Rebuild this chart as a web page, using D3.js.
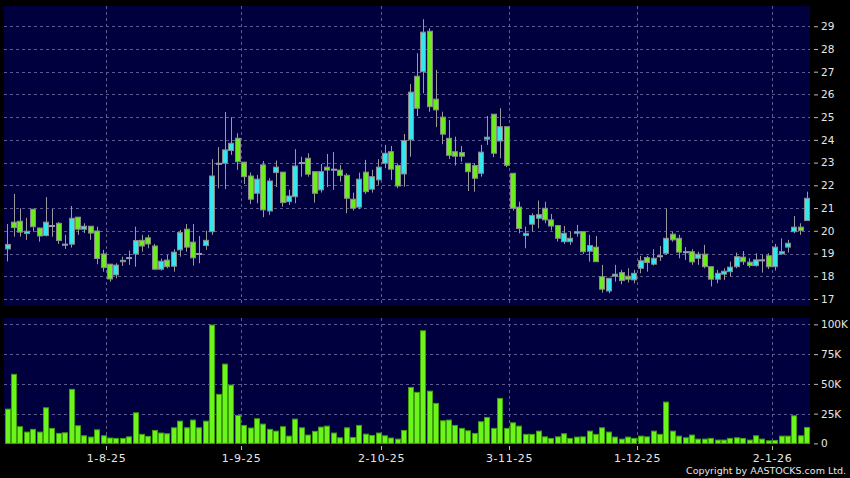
<!DOCTYPE html>
<html>
<head>
<meta charset="utf-8">
<script src="https://cdn.jsdelivr.net/npm/d3@7/dist/d3.min.js"></script>
<style>
  body { margin: 0; background: #000; }
  svg { display: block; }
  .axis text { fill: #e6e6e6; font-family: "DejaVu Sans", sans-serif; font-size: 10.5px; }
  .axis .domain { display: none; }
  .axis line { stroke: #bbbbbb; }
</style>
</head>
<body>
<div id="chart"></div>
<script>
// daily candles, oldest first (one per trading day)
var openPrices = [19.2, 20.38, 20.42, 19.88, 20.95, 20.12, 19.79, 20.23, 20.33, 19.41, 19.41, 20.6, 20.07, 20.2, 19.99, 18.98, 18.53, 18.06, 18.64, 18.82,
    18.98, 19.58, 19.69, 19.33, 18.31, 18.71, 18.44, 19.16, 20.07, 19.5, 19.0, 19.35, 19.96, 22.97, 22.97, 23.53, 24.07, 23.02, 22.41, 21.65,
    22.9, 20.87, 22.56, 22.58, 21.28, 21.5, 23.0, 23.19, 22.6, 21.8, 22.8, 22.71, 22.67, 22.44, 21.39, 21.04, 22.58, 21.83, 22.24, 22.97,
    23.48, 22.87, 22.5, 24.0, 26.8, 27.0, 28.78, 25.79, 25.0, 24.07, 23.48, 23.44, 22.97, 22.87, 22.53, 24.03, 25.13, 23.95, 24.58, 22.53,
    21.04, 19.79, 20.29, 20.55, 20.99, 20.48, 20.23, 19.52, 19.52, 19.89, 19.96, 19.1, 19.28, 17.98, 17.35, 18.0, 18.16, 18.0, 17.84, 18.35,
    18.82, 18.53, 18.9, 19.01, 19.85, 19.67, 19.08, 19.08, 18.79, 18.97, 18.42, 17.87, 18.09, 18.2, 18.42, 18.84, 18.62, 18.47, 18.72, 18.9,
    18.42, 18.98, 19.28, 19.96, 20.16, 20.45];
var highPrices = [20.3, 21.62, 20.99, 20.57, 20.95, 20.14, 21.48, 20.96, 20.38, 19.82, 21.09, 20.6, 20.33, 20.2, 20.18, 19.16, 18.53, 18.57, 18.86, 19.13,
    20.18, 19.82, 19.82, 19.42, 18.78, 18.94, 19.19, 20.04, 20.3, 20.3, 19.77, 20.0, 23.15, 23.68, 25.23, 25.0, 24.29, 23.02, 22.56, 22.46,
    23.07, 22.31, 23.09, 22.58, 21.8, 23.59, 23.26, 23.41, 22.6, 22.94, 23.38, 23.47, 22.9, 22.53, 21.68, 22.56, 23.12, 22.68, 23.15, 23.78,
    23.73, 22.97, 24.26, 26.46, 27.81, 29.31, 28.91, 27.08, 25.24, 24.88, 24.14, 23.73, 22.97, 22.97, 23.78, 25.05, 25.13, 25.39, 24.58, 22.53,
    21.28, 20.18, 20.77, 21.33, 21.28, 20.74, 20.23, 20.21, 19.96, 20.26, 19.96, 19.82, 19.77, 18.5, 17.91, 18.5, 18.28, 18.35, 18.28, 18.89,
    18.89, 19.19, 19.33, 20.96, 19.96, 19.82, 19.28, 19.19, 19.08, 19.38, 18.42, 18.28, 18.35, 18.64, 19.04, 19.11, 18.79, 19.01, 18.94, 19.01,
    19.42, 19.67, 19.6, 20.65, 20.33, 21.72];
var lowPrices = [18.65, 19.74, 19.74, 19.6, 19.96, 19.52, 19.75, 19.74, 19.42, 19.2, 19.26, 19.82, 19.9, 19.6, 18.53, 18.2, 17.76, 17.91, 18.45, 18.5,
    18.42, 19.08, 19.23, 18.28, 18.25, 18.35, 18.2, 18.86, 19.08, 18.47, 18.57, 19.16, 19.82, 21.87, 21.83, 23.34, 22.68, 22.06, 21.18, 21.21,
    20.6, 20.7, 21.92, 21.06, 21.14, 21.21, 22.38, 22.38, 21.24, 21.68, 21.92, 21.8, 22.16, 20.77, 20.89, 20.95, 21.62, 21.68, 22.02, 22.75,
    22.24, 21.87, 21.94, 23.26, 25.05, 26.05, 25.24, 24.56, 23.81, 23.16, 22.87, 23.04, 21.75, 21.72, 22.38, 23.78, 23.24, 23.19, 22.8, 20.89,
    19.89, 19.23, 19.96, 20.11, 20.33, 20.01, 19.53, 19.42, 19.38, 19.74, 18.98, 18.64, 18.64, 17.28, 17.25, 17.76, 17.65, 17.72, 17.69, 18.13,
    18.2, 18.47, 18.67, 18.94, 19.52, 18.79, 18.72, 18.5, 18.5, 18.35, 17.55, 17.69, 17.84, 17.98, 18.35, 18.5, 18.38, 18.42, 18.16, 18.32,
    18.25, 18.94, 19.04, 19.89, 19.82, 20.45];
var closePrices = [19.4, 20.14, 19.94, 19.98, 20.18, 19.77, 20.38, 20.23, 19.57, 19.41, 20.55, 20.07, 20.2, 19.9, 18.78, 18.38, 17.88, 18.49, 18.7, 18.82,
    19.57, 19.33, 19.42, 18.31, 18.66, 18.42, 19.06, 19.92, 19.28, 18.81, 19.0, 19.58, 22.41, 22.97, 23.56, 23.85, 23.04, 22.38, 21.39, 22.27,
    20.92, 22.19, 22.8, 21.24, 21.53, 22.85, 23.0, 22.49, 21.65, 22.6, 22.67, 22.71, 22.43, 21.43, 20.99, 22.27, 21.72, 22.38, 22.8, 23.41,
    22.71, 21.97, 23.97, 26.1, 25.39, 28.74, 25.46, 25.32, 24.25, 23.32, 23.28, 23.28, 22.6, 22.31, 23.46, 24.12, 23.41, 24.58, 22.88, 20.99,
    20.1, 19.89, 20.67, 20.71, 20.48, 20.21, 19.67, 19.89, 19.67, 19.96, 19.08, 19.35, 18.64, 17.43, 17.91, 18.09, 17.81, 17.87, 18.13, 18.68,
    18.6, 18.79, 18.9, 19.67, 19.6, 19.06, 19.08, 18.63, 18.97, 18.42, 17.87, 18.13, 18.22, 18.4, 18.86, 18.64, 18.47, 18.72, 18.72, 18.42,
    19.28, 19.08, 19.45, 20.16, 20.01, 21.43];
var volumes = [28800, 58000, 14000, 9500, 11800, 9500, 29900, 12600, 8400, 8900, 45400, 14800, 6400, 5300, 11400, 6400, 4500, 4200, 4200, 5500,
    25700, 7600, 5900, 10900, 8700, 8100, 13100, 18700, 13100, 19600, 13100, 18700, 99400, 41200, 66600, 49000, 23500, 15100, 12900, 20700,
    16200, 11800, 10300, 14000, 6100, 20400, 13100, 7000, 10100, 13700, 14500, 8700, 4700, 13100, 5000, 15100, 7800, 6700, 8700, 6400,
    4500, 3600, 10900, 47000, 42900, 94600, 43900, 33600, 19000, 19600, 15100, 12600, 10600, 8400, 18200, 21800, 12600, 37800, 12600, 17300,
    14500, 7600, 7600, 10300, 5500, 4200, 5500, 8100, 4200, 5300, 5500, 10300, 7600, 13100, 9500, 5300, 3600, 5300, 4200, 6100,
    5500, 10300, 7600, 34700, 10300, 6100, 4700, 7000, 3600, 3600, 4200, 2800, 2800, 4200, 4700, 4200, 2800, 6400, 3600, 2200,
    2500, 6100, 6100, 23200, 6400, 13400];

// month labels and the candle they sit after
var dateLabels = ['1-8-25', '1-9-25', '2-10-25', '3-11-25', '1-12-25', '2-1-26'];
var dateIndex = [15, 36, 58, 78, 98, 119];
var priceTicks = [17, 18, 19, 20, 21, 22, 23, 24, 25, 26, 27, 28, 29];
var volumeTicks = [0, 25000, 50000, 75000, 100000];

var width = 850,
    height = 478,
    left = 4,
    right = 810,
    priceTop = 6,
    priceBottom = 306,
    volTop = 318,
    volBottom = 444;

var upColor = '#35e6ef',
    downColor = '#6bec1c',
    gridColor = '#5c5c90',
    panelColor = '#00003f';

var svg = d3.select('#chart')
    .append('svg')
    .attr('width', width)
    .attr('height', height);

svg.append('rect')
    .attr('width', width)
    .attr('height', height)
    .attr('fill', '#000');

var x = d3.scaleBand()
    .domain(d3.range(closePrices.length))
    .range([left, right])
    .paddingInner(0.18)
    .paddingOuter(0.09);

var yPrice = d3.scaleLinear()
    .domain([16.69, 29.89])
    .range([priceBottom, priceTop]);

var yVol = d3.scaleLinear()
    .domain([0, 105000])
    .range([443.4, 318.4]);

function gridX(i) {
    return Math.round(x(i) + x.bandwidth() / 2 + x.step() / 2) + 0.5;
}

// panels
svg.append('rect')
    .attr('x', left).attr('y', priceTop)
    .attr('width', right - left).attr('height', priceBottom - priceTop)
    .attr('fill', panelColor);
svg.append('rect')
    .attr('x', left).attr('y', volTop)
    .attr('width', right - left).attr('height', volBottom - volTop)
    .attr('fill', panelColor);

// grid lines
var grid = svg.append('g')
    .attr('stroke', gridColor)
    .attr('stroke-dasharray', '3,3')
    .attr('shape-rendering', 'crispEdges');

grid.selectAll('.hp')
    .data(priceTicks)
    .enter().append('line')
    .attr('x1', left).attr('x2', right)
    .attr('y1', function (d) { return Math.round(yPrice(d)) + 0.5; })
    .attr('y2', function (d) { return Math.round(yPrice(d)) + 0.5; });

grid.selectAll('.hv')
    .data(volumeTicks.slice(1))
    .enter().append('line')
    .attr('x1', left).attr('x2', right)
    .attr('y1', function (d) { return Math.round(yVol(d)) + 0.5; })
    .attr('y2', function (d) { return Math.round(yVol(d)) + 0.5; });

grid.selectAll('.vp')
    .data(dateIndex)
    .enter().append('line')
    .attr('x1', gridX).attr('x2', gridX)
    .attr('y1', priceTop).attr('y2', priceBottom);

grid.selectAll('.vv')
    .data(dateIndex)
    .enter().append('line')
    .attr('x1', gridX).attr('x2', gridX)
    .attr('y1', volTop).attr('y2', volBottom);

// candles
var candles = svg.append('g')
    .selectAll('g')
    .data(closePrices)
    .enter().append('g');

candles.append('line')
    .attr('x1', function (d, i) { return Math.round(x(i) + x.bandwidth() / 2) + 0.5; })
    .attr('x2', function (d, i) { return Math.round(x(i) + x.bandwidth() / 2) + 0.5; })
    .attr('y1', function (d, i) { return yPrice(highPrices[i]); })
    .attr('y2', function (d, i) { return yPrice(lowPrices[i]); })
    .attr('stroke', '#9a9a9a');

candles.append('rect')
    .attr('x', function (d, i) { return Math.round(x(i)) + 0.5; })
    .attr('width', Math.round(x.bandwidth()))
    .attr('y', function (d, i) { return yPrice(Math.max(openPrices[i], d)); })
    .attr('height', function (d, i) {
        return Math.max(1, Math.abs(yPrice(openPrices[i]) - yPrice(d)));
    })
    .attr('fill', function (d, i) {
        if (d > openPrices[i]) return upColor;
        if (d < openPrices[i]) return downColor;
        return '#9a9aa8';
    })
    .attr('stroke', function (d, i) {
        return d === openPrices[i] ? '#9a9aa8' : '#8a8a8a';
    });

// volume bars
svg.append('g')
    .selectAll('rect')
    .data(volumes)
    .enter().append('rect')
    .attr('x', function (d, i) { return Math.round(x(i)) + 0.5; })
    .attr('width', Math.round(x.bandwidth()))
    .attr('y', function (d) { return yVol(d); })
    .attr('height', function (d) { return yVol(0) - yVol(d); })
    .attr('fill', '#6cf51a')
    .attr('stroke', '#3f9e10');

// right axes
svg.append('g')
    .attr('class', 'axis')
    .attr('transform', 'translate(814,0)')
    .call(d3.axisRight(yPrice).tickValues(priceTicks).tickSize(4).tickPadding(3));

svg.append('g')
    .attr('class', 'axis')
    .attr('transform', 'translate(814,0)')
    .call(d3.axisRight(yVol).tickValues(volumeTicks).tickSize(4).tickPadding(3)
        .tickFormat(function (d) { return d === 0 ? '0' : d / 1000 + 'K'; }));

// date labels under the volume panel
var dates = svg.append('g').attr('class', 'axis');
dates.selectAll('line')
    .data(dateIndex)
    .enter().append('line')
    .attr('x1', gridX).attr('x2', gridX)
    .attr('y1', 446).attr('y2', 450);
dates.selectAll('text')
    .data(dateIndex)
    .enter().append('text')
    .attr('x', gridX)
    .attr('y', 462)
    .attr('text-anchor', 'middle')
    .style('font-size', '11px')
    .style('letter-spacing', '0.6px')
    .text(function (d, i) { return dateLabels[i]; });

svg.append('text')
    .attr('x', 846)
    .attr('y', 474)
    .attr('text-anchor', 'end')
    .attr('fill', '#e6e6e6')
    .style('font-family', '"DejaVu Sans", sans-serif')
    .style('font-size', '9.5px')
    .text('Copyright by AASTOCKS.com Ltd.');
</script>
</body>
</html>
